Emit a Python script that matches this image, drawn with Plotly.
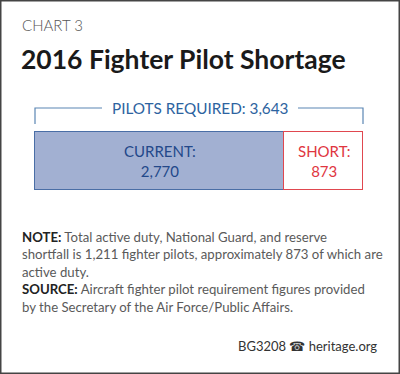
import plotly.graph_objects as go

categories = ["CURRENT", "SHORT"]
values = [2770, 873]
required = 3643
label_texts = ["CURRENT:<br>2,770", "SHORT:<br>873"]

W, H = 400, 374
def px(x): return x / W
def py(y): return 1 - y / H

fig = go.Figure()
fig.add_trace(go.Bar(
    x=[values[0]], y=["p"], orientation="h", name=categories[0], width=1,
    marker=dict(color="#a2b0d2", line=dict(color="#4a6ea6", width=1.2)),
    hoverinfo="skip"))
fig.add_trace(go.Bar(
    x=[values[1]], y=["p"], orientation="h", name=categories[1], width=1,
    marker=dict(color="#ffffff", line=dict(color="#e0474f", width=1.2)),
    hoverinfo="skip"))

font = "Lato"
upx = required / 328.0  # data units per pixel
fig.update_layout(
    width=W, height=H, margin=dict(l=0, r=0, t=0, b=0),
    barmode="stack", bargap=0, showlegend=False,
    paper_bgcolor="white", plot_bgcolor="white",
    xaxis=dict(domain=[px(33), px(365)], range=[-2 * upx, required + 2 * upx],
               visible=False, fixedrange=True),
    yaxis=dict(domain=[py(192), py(130)], range=[-0.5 * 62 / 58, 0.5 * 62 / 58],
               visible=False, fixedrange=True),
)

def ann(x, y, text, size, color, xanchor="center", **kw):
    fig.add_annotation(x=x, y=y, xref=kw.pop("xref", "paper"), yref=kw.pop("yref", "paper"),
                       xanchor=xanchor, yanchor="middle", text=text, showarrow=False,
                       font=dict(family=font, size=size, color=color, **kw))

# bar labels
ann(values[0] / 2, 0, label_texts[0], 15, "#23488a", xref="x", yref="y")
ann(values[0] + values[1] / 2, 0, label_texts[1], 15, "#e0363f", xref="x", yref="y")

# bracket
bc = "#5b86b4"
fig.add_shape(type="path", xref="paper", yref="paper",
              path=f"M {px(35)},{py(124)} L {px(35)},{py(108)} L {px(102)},{py(108)}",
              line=dict(color=bc, width=1.2))
fig.add_shape(type="path", xref="paper", yref="paper",
              path=f"M {px(298)},{py(108)} L {px(363)},{py(108)} L {px(363)},{py(124)}",
              line=dict(color=bc, width=1.2))
ann(px(200), py(108), f"PILOTS REQUIRED: {required:,}", 15.3, "#2d63a0")

# titles
ann(px(20), py(25), "CHART 3", 15, "#555555", xanchor="left", weight=300)
ann(px(19), py(59), "<b>2016 Fighter Pilot Shortage</b>", 26.5, "#1a1a1a", xanchor="left")

# notes
dark = "#222222"
lines = [
    f"<b><span style='color:{dark}'>NOTE:</span></b> Total active duty, National Guard, and reserve",
    "shortfall is 1,211 fighter pilots, approximately 873 of which are",
    "active duty.",
    f"<b><span style='color:{dark}'>SOURCE:</span></b> Aircraft fighter pilot requirement figures provided",
    "by the Secretary of the Air Force/Public Affairs.",
]
for i, t in enumerate(lines):
    ann(px(20), py(237 + 17.4 * i), t, 13.2, "#5a5a5a", xanchor="left")

ann(px(379), py(346), "BG3208 \u260e heritage.org", 13, "#333333", xanchor="right")

# frame
fig.add_shape(type="rect", xref="paper", yref="paper", x0=px(0.75), y0=py(373.25),
              x1=px(399.25), y1=py(0.75), line=dict(color="#444444", width=1.5))

fig.write_html("out.html", config={"displayModeBar": False},
               post_script="document.body.style.margin='0';document.body.style.overflow='hidden';")
